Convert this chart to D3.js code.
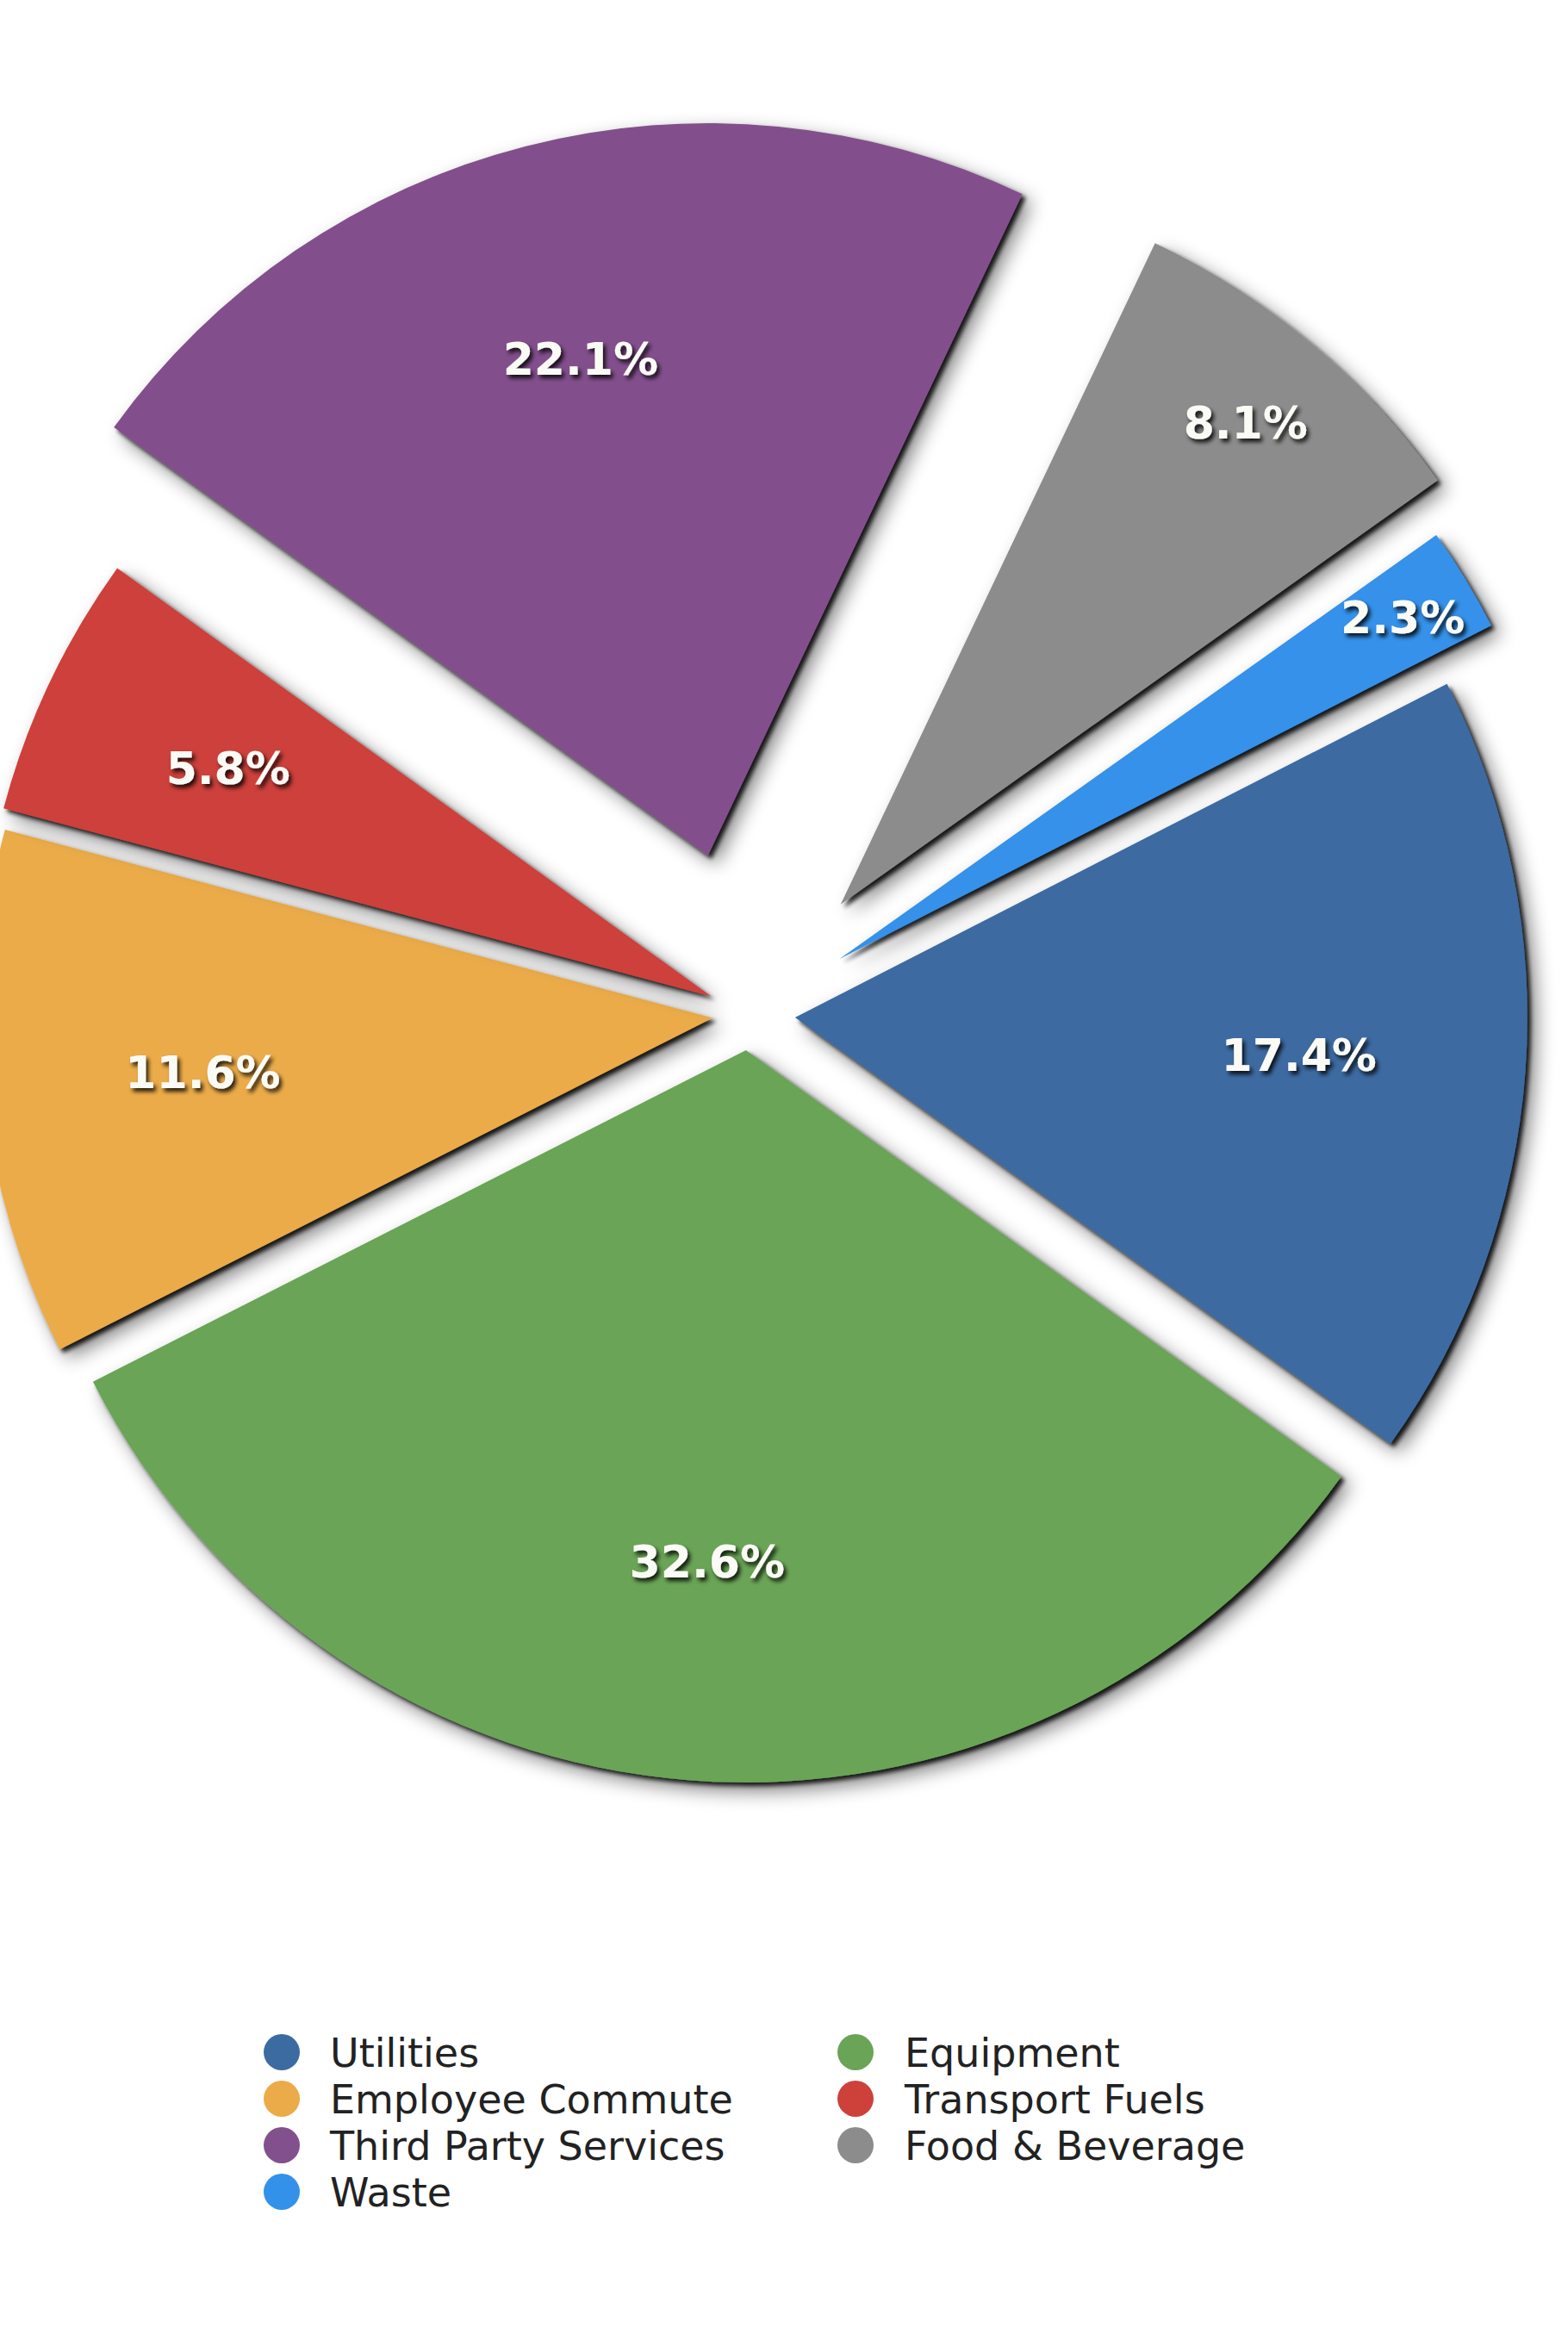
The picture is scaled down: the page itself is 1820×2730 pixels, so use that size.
<!DOCTYPE html>
<html><head><meta charset="utf-8">
<script src="https://cdn.jsdelivr.net/npm/d3@7"></script>
<style>html,body{margin:0;padding:0;background:#fff;} svg{display:block}</style>
</head><body>
<svg id="chart" width="1820" height="2730"></svg>
<script>
// ---- data ----
const categories = ["Utilities", "Equipment", "Employee Commute", "Transport Fuels", "Third Party Services", "Food & Beverage", "Waste"];
const values = [17.4, 32.6, 11.6, 5.8, 22.1, 8.1, 2.3];
const sliceLabels = ["17.4%", "32.6%", "11.6%", "5.8%", "22.1%", "8.1%", "2.3%"];

// ---- style / layout ----
const colors = ["#3c6ba1", "#6aa457", "#ebab48", "#cd413a", "#82508c", "#8c8c8c", "#3491ea"];
const explode = [54, 42, 42, 48, 190, 166, 123];
const labelFactor = [0.69, 0.70, 0.70, 0.73, 0.70, 0.86, 0.90];
const center = [869, 1177];
const R = 850;
const startDeg = 62.9;

const svg = d3.select("#chart");
const defs = svg.append("defs");
const f = defs.append("filter").attr("id", "sh").attr("x", "-20%").attr("y", "-20%").attr("width", "150%").attr("height", "150%");
f.append("feGaussianBlur").attr("in", "SourceAlpha").attr("stdDeviation", 2.5).attr("result", "b1");
f.append("feOffset").attr("in", "b1").attr("dx", 4).attr("dy", 4).attr("result", "o1");
f.append("feComponentTransfer").attr("in", "o1").attr("result", "s1").append("feFuncA").attr("type", "linear").attr("slope", 0.85);
f.append("feGaussianBlur").attr("in", "SourceAlpha").attr("stdDeviation", 11).attr("result", "b2");
f.append("feOffset").attr("in", "b2").attr("dx", 10).attr("dy", 10).attr("result", "o2");
f.append("feComponentTransfer").attr("in", "o2").attr("result", "s2").append("feFuncA").attr("type", "linear").attr("slope", 0.5);
const fm = f.append("feMerge");
fm.append("feMergeNode").attr("in", "s2");
fm.append("feMergeNode").attr("in", "s1");
fm.append("feMergeNode").attr("in", "SourceGraphic");

const tf = defs.append("filter").attr("id", "tsh").attr("x", "-20%").attr("y", "-30%").attr("width", "150%").attr("height", "170%");
tf.append("feGaussianBlur").attr("in", "SourceAlpha").attr("stdDeviation", 2.5).attr("result", "tb");
tf.append("feOffset").attr("in", "tb").attr("dx", 3).attr("dy", 4).attr("result", "to");
tf.append("feComponentTransfer").attr("in", "to").attr("result", "ts").append("feFuncA").attr("type", "linear").attr("slope", 0.85);
const tm = tf.append("feMerge");
tm.append("feMergeNode").attr("in", "ts");
tm.append("feMergeNode").attr("in", "SourceGraphic");

const color = d3.scaleOrdinal().domain(categories).range(colors);
const start = startDeg * Math.PI / 180;
const pie = d3.pie().sort(null).startAngle(start).endAngle(start + 2 * Math.PI).value((d, i) => values[i]);
const arcs = pie(categories);
const arc = d3.arc().innerRadius(0).outerRadius(R);

const g = svg.append("g").attr("transform", `translate(${center[0]},${center[1]})`);

const slices = g.selectAll("g.slice").data(arcs).join("g").attr("class", "slice")
  .attr("transform", (d, i) => {
    const a = (d.startAngle + d.endAngle) / 2;
    return `translate(${Math.sin(a) * explode[i]},${-Math.cos(a) * explode[i]})`;
  });
slices.append("path").attr("d", arc).attr("fill", d => color(d.data)).attr("filter", "url(#sh)");

g.selectAll("text.lbl").data(arcs).join("text").attr("class", "lbl")
  .attr("x", (d, i) => { const a = (d.startAngle + d.endAngle) / 2; return Math.sin(a) * (explode[i] + labelFactor[i] * R); })
  .attr("y", (d, i) => { const a = (d.startAngle + d.endAngle) / 2; return -Math.cos(a) * (explode[i] + labelFactor[i] * R); })
  .attr("text-anchor", "middle").attr("dy", "0.36em")
  .attr("font-family", "'DejaVu Sans', Verdana, sans-serif").attr("font-weight", "bold").attr("font-size", 52)
  .attr("fill", "#fbfbf6").attr("filter", "url(#tsh)")
  .text((d, i) => sliceLabels[i]);

// legend
const legCols = [327, 993];
const legText = [383, 1050];
const legY0 = 2382, legDy = 54;
const leg = svg.append("g").selectAll("g").data(categories).join("g")
  .attr("transform", (d, i) => `translate(0,${legY0 + Math.floor(i / 2) * legDy})`);
leg.append("circle").attr("cx", (d, i) => legCols[i % 2]).attr("cy", 0).attr("r", 21).attr("fill", d => color(d));
leg.append("text").attr("x", (d, i) => legText[i % 2]).attr("y", 0).attr("dy", "0.36em")
  .attr("font-family", "'DejaVu Sans', Verdana, sans-serif").attr("font-size", 46).attr("fill", "#222")
  .text(d => d);
</script>
</body></html>
